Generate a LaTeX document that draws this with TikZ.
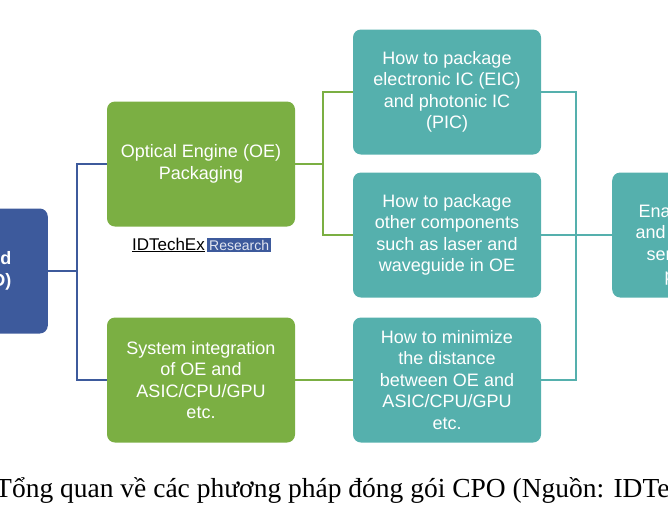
\documentclass[tikz,border=0pt]{standalone}
\usepackage{fontspec}
\setmainfont{Liberation Sans}
\newfontfamily\capfont{Liberation Serif}
\definecolor{cpoblue}{HTML}{3D5A9C}
\definecolor{oegreen}{HTML}{7BAF43}
\definecolor{pkgteal}{HTML}{55B0AD}
\tikzset{
  box/.style={draw=none,rounded corners=8pt,minimum width=188pt,minimum height=125pt,
    text=white,align=center,font=\fontsize{18}{21.5}\selectfont,inner sep=0pt},
  link/.style={line width=2.2pt}
}
\begin{document}
\begin{tikzpicture}[x=1pt,y=-1pt]
\useasboundingbox (0,0) rectangle (668,520);
\clip (0,0) rectangle (668,520);

\node[box,fill=cpoblue,minimum width=120pt,anchor=east] (C) at (48, 271) {};
\node[anchor=east,align=right,text=white,font=\bfseries\fontsize{18}{21.5}\selectfont] (Ct) at (15, 271) {d\\D)};

\node[box,fill=oegreen] (A) at (201, 164) {Optical Engine (OE)\\Packaging};
\node[box,fill=oegreen] (B) at (201, 380) {System integration\\of OE and\\ASIC/CPU/GPU\\etc.};

\node[anchor=east,inner sep=1pt,font=\fontsize{17}{19}\selectfont] (L) at (206, 245) {\underline{IDTechEx}};
\node[anchor=west,fill=cpoblue,text=white!85!cpoblue,inner sep=2pt,font=\fontsize{14}{16}\selectfont] (R) at (207, 245) {Research};

\node[box,fill=pkgteal] (T1) at (447, 92) {How to package\\electronic IC (EIC)\\and photonic IC\\(PIC)};
\node[box,fill=pkgteal] (T2) at (447, 235) {How to package\\other components\\such as laser and\\waveguide in OE};
\node[box,fill=pkgteal] (T3) at (447, 380) {How to minimize\\the distance\\between OE and\\ASIC/CPU/GPU\\etc.};

\node[box,fill=pkgteal,anchor=west] (E) at (612, 235) {};
\node[anchor=west,align=left,text=white,font=\fontsize{18}{21.5}\selectfont] (Et) at (632, 245) {\hspace*{3pt}Ena\\and\\\hspace*{11pt}ser\\\hspace*{29pt}p};

\coordinate (cb) at (77, 271);
\coordinate (gb) at (323, 164);
\coordinate (tb) at (576, 235);

\draw[link,cpoblue] (C.east |- cb) -- (cb);
\draw[link,cpoblue] (A.west) -| (cb) |- (B.west);
\draw[link,oegreen] (A.east) -- (gb);
\draw[link,oegreen] (T1.west) -| (gb) |- (T2.west);
\draw[link,oegreen] (B.east) -- (T3.west);
\draw[link,pkgteal] (T1.east) -| (tb) |- (T3.east);
\draw[link,pkgteal] (T2.east) -- (E.west);

\node[anchor=west,font=\capfont\fontsize{27.5}{30}\selectfont,inner sep=0pt] (cap) at (-5, 490) {Tổng quan về các phương pháp đóng gói CPO (Nguồn: IDTechEx)};
\end{tikzpicture}
\end{document}
